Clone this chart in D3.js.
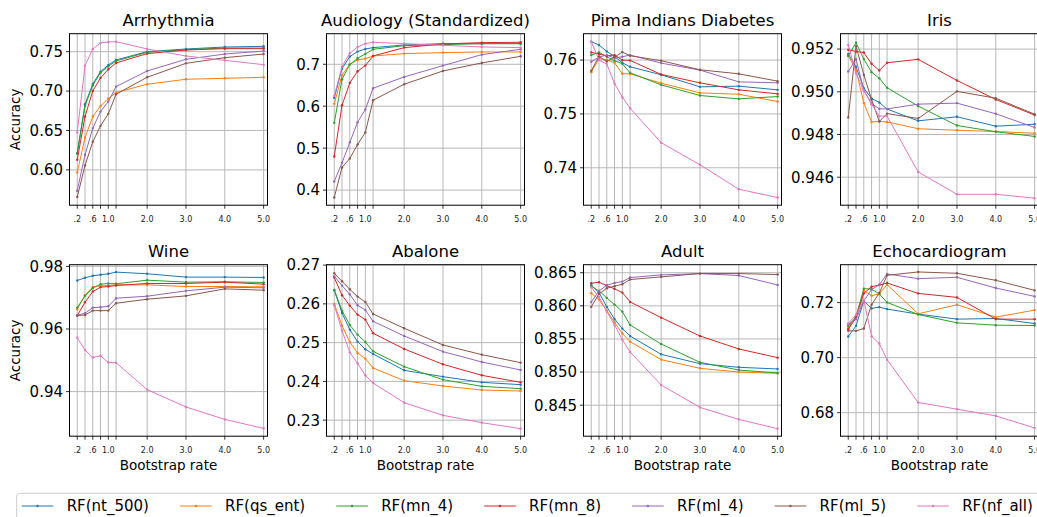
<!DOCTYPE html>
<html>
<head>
<meta charset="utf-8">
<script src="https://cdn.jsdelivr.net/npm/d3@7"></script>
<style>
  body { margin: 0; background: #fff; }
  svg { display: block; font-family: "DejaVu Sans", sans-serif; }
</style>
</head>
<body>
<div id="chart"></div>
<script>
// bootstrap rates on the x axis
const rates = [0.2, 0.4, 0.6, 0.8, 1.0, 1.2, 2, 3, 4, 5];
const rateLabels = [".2", "", ".6", "", "1.0", "", "2.0", "3.0", "4.0", "5.0"];

const seriesNames = ["RF(nt_500)", "RF(qs_ent)", "RF(mn_4)", "RF(mn_8)", "RF(ml_4)", "RF(ml_5)", "RF(nf_all)"];
const colors = ["#1f77b4", "#ff7f0e", "#2ca02c", "#d62728", "#9467bd", "#8c564b", "#e377c2"];

const datasetNames = ["Arrhythmia", "Audiology (Standardized)", "Pima Indians Diabetes", "Iris",
                      "Wine", "Abalone", "Adult", "Echocardiogram"];

// one row per series, same order as seriesNames
const arrhythmia = [
  [0.6213, 0.6833, 0.7090, 0.7247, 0.7331, 0.7395, 0.7500, 0.7534, 0.7559, 0.7568],
  [0.5968, 0.6411, 0.6677, 0.6812, 0.6905, 0.6981, 0.7087, 0.7150, 0.7162, 0.7175],
  [0.6205, 0.6812, 0.7074, 0.7234, 0.7314, 0.7382, 0.7492, 0.7525, 0.7546, 0.7546],
  [0.6129, 0.6677, 0.7002, 0.7167, 0.7276, 0.7357, 0.7475, 0.7521, 0.7538, 0.7538],
  [0.5736, 0.6192, 0.6530, 0.6741, 0.6867, 0.7057, 0.7255, 0.7403, 0.7470, 0.7508],
  [0.5656, 0.6057, 0.6357, 0.6559, 0.6711, 0.6960, 0.7175, 0.7352, 0.7424, 0.7470],
  [0.6475, 0.7323, 0.7534, 0.7610, 0.7622, 0.7627, 0.7534, 0.7445, 0.7390, 0.7335]
];
const audiology = [
  [0.6198, 0.6897, 0.7183, 0.7302, 0.7365, 0.7397, 0.7460, 0.7492, 0.7492, 0.7492],
  [0.6056, 0.6738, 0.7000, 0.7103, 0.7135, 0.7198, 0.7254, 0.7278, 0.7294, 0.7294],
  [0.5603, 0.6643, 0.6992, 0.7143, 0.7246, 0.7357, 0.7444, 0.7468, 0.7492, 0.7492],
  [0.4802, 0.6024, 0.6556, 0.6833, 0.6968, 0.7198, 0.7397, 0.7484, 0.7516, 0.7524],
  [0.4206, 0.4650, 0.5135, 0.5619, 0.5921, 0.6429, 0.6698, 0.6968, 0.7230, 0.7357],
  [0.3825, 0.4540, 0.4754, 0.5087, 0.5373, 0.6143, 0.6524, 0.6841, 0.7032, 0.7190],
  [0.6246, 0.6944, 0.7262, 0.7413, 0.7492, 0.7524, 0.7492, 0.7452, 0.7413, 0.7397]
];
const pima = [
  [0.76342, 0.76280, 0.76161, 0.76068, 0.75950, 0.75876, 0.75727, 0.75503, 0.75516, 0.75447],
  [0.75776, 0.76025, 0.76006, 0.75950, 0.75745, 0.75745, 0.75571, 0.75391, 0.75366, 0.75230],
  [0.76093, 0.76143, 0.76062, 0.75988, 0.75932, 0.75764, 0.75540, 0.75342, 0.75280, 0.75323],
  [0.76143, 0.76112, 0.76081, 0.76093, 0.76000, 0.75994, 0.75733, 0.75578, 0.75447, 0.75373],
  [0.75969, 0.76056, 0.76093, 0.76037, 0.76062, 0.76093, 0.75944, 0.75814, 0.75596, 0.75578],
  [0.75801, 0.76068, 0.75975, 0.76056, 0.76149, 0.76081, 0.75988, 0.75820, 0.75745, 0.75609],
  [0.76342, 0.76000, 0.75925, 0.75565, 0.75311, 0.75106, 0.74466, 0.74056, 0.73602, 0.73447]
];
const iris = [
  [0.95177, 0.95117, 0.95017, 0.94969, 0.94950, 0.94919, 0.94864, 0.94883, 0.94839, 0.94848],
  [0.95169, 0.95103, 0.94948, 0.94859, 0.94861, 0.94859, 0.94827, 0.94820, 0.94814, 0.94806],
  [0.95169, 0.95230, 0.95153, 0.95092, 0.95063, 0.95019, 0.94933, 0.94842, 0.94813, 0.94791],
  [0.95197, 0.95189, 0.95184, 0.95131, 0.95100, 0.95136, 0.95152, 0.95053, 0.94964, 0.94891],
  [0.95095, 0.95153, 0.95008, 0.94945, 0.94920, 0.94920, 0.94942, 0.94947, 0.94897, 0.94833],
  [0.94880, 0.95214, 0.95080, 0.94964, 0.94861, 0.94898, 0.94875, 0.95002, 0.94970, 0.94895],
  [0.95219, 0.95086, 0.95005, 0.94942, 0.94886, 0.94886, 0.94625, 0.94520, 0.94520, 0.94502]
];
const wine = [
  [0.97551, 0.97636, 0.97701, 0.97733, 0.97765, 0.97818, 0.97765, 0.97658, 0.97658, 0.97647],
  [0.96631, 0.97080, 0.97348, 0.97380, 0.97390, 0.97412, 0.97412, 0.97358, 0.97358, 0.97348],
  [0.96684, 0.97059, 0.97305, 0.97433, 0.97455, 0.97444, 0.97561, 0.97497, 0.97508, 0.97487],
  [0.96428, 0.96856, 0.97198, 0.97337, 0.97358, 0.97390, 0.97455, 0.97455, 0.97497, 0.97433],
  [0.96439, 0.96503, 0.96684, 0.96695, 0.96727, 0.96984, 0.97048, 0.97219, 0.97337, 0.97316],
  [0.96428, 0.96449, 0.96588, 0.96588, 0.96588, 0.96824, 0.96952, 0.97059, 0.97283, 0.97241],
  [0.95722, 0.95326, 0.95091, 0.95144, 0.94930, 0.94920, 0.94064, 0.93508, 0.93112, 0.92824]
];
const abalone = [
  [0.26351, 0.25766, 0.25335, 0.25026, 0.24828, 0.24708, 0.24286, 0.24123, 0.23976, 0.23916],
  [0.26000, 0.25439, 0.25017, 0.24733, 0.24587, 0.24346, 0.24020, 0.23882, 0.23778, 0.23753],
  [0.26359, 0.25826, 0.25456, 0.25206, 0.25017, 0.24776, 0.24381, 0.24045, 0.23873, 0.23813],
  [0.26677, 0.26222, 0.25955, 0.25723, 0.25594, 0.25241, 0.24837, 0.24441, 0.24157, 0.23976],
  [0.26712, 0.26471, 0.26247, 0.25963, 0.25843, 0.25551, 0.25172, 0.24768, 0.24501, 0.24295],
  [0.26789, 0.26583, 0.26376, 0.26187, 0.26049, 0.25740, 0.25370, 0.24940, 0.24690, 0.24484],
  [0.25963, 0.25310, 0.24751, 0.24467, 0.24157, 0.23959, 0.23452, 0.23125, 0.22936, 0.22781]
];
const adult = [
  [0.86311, 0.86200, 0.85984, 0.85802, 0.85656, 0.85545, 0.85268, 0.85127, 0.85072, 0.85047],
  [0.86190, 0.86094, 0.85928, 0.85752, 0.85581, 0.85460, 0.85188, 0.85057, 0.85001, 0.84981],
  [0.86296, 0.86225, 0.86120, 0.86019, 0.85913, 0.85712, 0.85424, 0.85147, 0.85031, 0.84986],
  [0.86341, 0.86356, 0.86306, 0.86256, 0.86200, 0.86059, 0.85822, 0.85545, 0.85349, 0.85218],
  [0.86059, 0.86225, 0.86311, 0.86346, 0.86366, 0.86427, 0.86467, 0.86487, 0.86457, 0.86316],
  [0.85984, 0.86180, 0.86266, 0.86296, 0.86326, 0.86397, 0.86437, 0.86487, 0.86487, 0.86472],
  [0.86281, 0.86130, 0.85913, 0.85712, 0.85490, 0.85304, 0.84805, 0.84467, 0.84286, 0.84145]
];
const echocardiogram = [
  [0.70766, 0.71155, 0.72055, 0.71787, 0.71836, 0.71763, 0.71581, 0.71398, 0.71422, 0.71240],
  [0.71070, 0.71520, 0.72432, 0.72249, 0.72322, 0.72650, 0.71593, 0.71921, 0.71471, 0.71726],
  [0.71143, 0.71471, 0.72505, 0.72492, 0.72310, 0.72006, 0.71568, 0.71264, 0.71179, 0.71167],
  [0.71033, 0.71447, 0.72334, 0.72577, 0.72638, 0.72711, 0.72334, 0.72188, 0.71398, 0.71398],
  [0.71216, 0.71398, 0.72067, 0.72468, 0.72650, 0.73040, 0.72870, 0.72918, 0.72529, 0.72225],
  [0.70973, 0.70973, 0.71058, 0.71921, 0.72347, 0.72991, 0.73112, 0.73064, 0.72809, 0.72444],
  [0.71240, 0.71556, 0.72091, 0.70778, 0.70511, 0.69927, 0.68371, 0.68128, 0.67884, 0.67447]
];
const allData = [arrhythmia, audiology, pima, iris, wine, abalone, adult, echocardiogram];

// axis limits and ticks per panel
const yLimits = [[0.5552, 0.7728], [0.364, 0.7729], [0.73305, 0.7649], [0.94469, 0.95272],
                 [0.92575, 0.98055], [0.22587, 0.2701], [0.84032, 0.86621], [0.67146, 0.73376]];
const yTicks = [[0.60, 0.65, 0.70, 0.75], [0.4, 0.5, 0.6, 0.7], [0.74, 0.75, 0.76], [0.946, 0.948, 0.950, 0.952],
                [0.94, 0.96, 0.98], [0.23, 0.24, 0.25, 0.26, 0.27], [0.845, 0.850, 0.855, 0.860, 0.865], [0.68, 0.70, 0.72]];
const yFormats = [".2f", ".1f", ".2f", ".3f", ".2f", ".2f", ".3f", ".2f"];

const width = 1037, height = 517;
const panelLeft = [69.5, 326.5, 583.5, 840.5];
const panelTop = [33.7, 264.7];
const pw = 198, ph = 171.5;

const svg = d3.select("#chart").append("svg")
    .attr("width", width)
    .attr("height", height);

const x = d3.scaleLinear().domain([0, 5.1]).range([0, pw]);

allData.forEach(function (data, i) {
    const col = i % 4, row = Math.floor(i / 4);
    const g = svg.append("g")
        .attr("transform", `translate(${panelLeft[col]},${panelTop[row]})`);
    const y = d3.scaleLinear().domain(yLimits[i]).range([ph, 0]);

    // grid
    g.selectAll(".vgrid").data(rates).enter().append("line")
        .attr("x1", d => x(d)).attr("x2", d => x(d))
        .attr("y1", 0).attr("y2", ph)
        .attr("stroke", "#b0b0b0").attr("stroke-width", 0.9);
    g.selectAll(".hgrid").data(yTicks[i]).enter().append("line")
        .attr("x1", 0).attr("x2", pw)
        .attr("y1", d => y(d)).attr("y2", d => y(d))
        .attr("stroke", "#b0b0b0").attr("stroke-width", 0.9);

    // series
    const line = d3.line().x((d, j) => x(rates[j])).y(d => y(d));
    data.forEach(function (vals, s) {
        g.append("path")
            .attr("d", line(vals))
            .attr("fill", "none")
            .attr("stroke", colors[s])
            .attr("stroke-width", 1);
        g.selectAll(".pt" + s).data(vals).enter().append("circle")
            .attr("cx", (d, j) => x(rates[j]))
            .attr("cy", d => y(d))
            .attr("r", 1.2)
            .attr("fill", colors[s]);
    });

    // frame
    g.append("rect")
        .attr("width", pw).attr("height", ph)
        .attr("fill", "none").attr("stroke", "#000").attr("stroke-width", 1);

    // x ticks
    g.selectAll(".xt").data(rates).enter().append("line")
        .attr("x1", d => x(d)).attr("x2", d => x(d))
        .attr("y1", ph).attr("y2", ph + 3.5)
        .attr("stroke", "#000").attr("stroke-width", 0.8);
    g.selectAll(".xl").data(rates).enter().append("text")
        .attr("x", d => x(d))
        .attr("y", ph + 16.5)
        .attr("text-anchor", "middle")
        .attr("font-size", 8)
        .attr("fill", "#222")
        .text((d, j) => rateLabels[j]);

    // y ticks
    const fmt = d3.format(yFormats[i]);
    g.selectAll(".yt").data(yTicks[i]).enter().append("line")
        .attr("x1", -3.5).attr("x2", 0)
        .attr("y1", d => y(d)).attr("y2", d => y(d))
        .attr("stroke", "#000").attr("stroke-width", 0.8);
    g.selectAll(".yl").data(yTicks[i]).enter().append("text")
        .attr("x", -6.5)
        .attr("y", d => y(d))
        .attr("dy", "0.36em")
        .attr("text-anchor", "end")
        .attr("font-size", 15)
        .text(d => fmt(d));

    // title
    g.append("text")
        .attr("x", pw / 2)
        .attr("y", -7.5)
        .attr("text-anchor", "middle")
        .attr("font-size", 16.5)
        .text(datasetNames[i]);

    if (col === 0) {
        g.append("text")
            .attr("transform", `translate(${19.5 - panelLeft[0]},${ph / 2}) rotate(-90)`)
            .attr("text-anchor", "middle")
            .attr("font-size", 13.5)
            .text("Accuracy");
    }
    if (row === 1) {
        g.append("text")
            .attr("x", pw / 2)
            .attr("y", ph + 34)
            .attr("text-anchor", "middle")
            .attr("font-size", 13.5)
            .text("Bootstrap rate");
    }
});

// legend
const legend = svg.append("g").attr("transform", "translate(16.7,493.3)");
legend.append("rect")
    .attr("width", 1100).attr("height", 40)
    .attr("rx", 3)
    .attr("fill", "#fff")
    .attr("stroke", "#cccccc").attr("stroke-width", 1);

let lx = 5;
seriesNames.forEach(function (name, s) {
    const item = legend.append("g").attr("transform", `translate(${lx},12.7)`);
    item.append("line")
        .attr("x1", 0).attr("x2", 31.7)
        .attr("stroke", colors[s]).attr("stroke-width", 1);
    item.append("circle")
        .attr("cx", 15.8).attr("r", 1.2).attr("fill", colors[s]);
    const t = item.append("text")
        .attr("x", 45)
        .attr("dy", "0.36em")
        .attr("font-size", 15)
        .text(name);
    lx += 45 + t.node().getComputedTextLength() + 31;
});
</script>
</body>
</html>
